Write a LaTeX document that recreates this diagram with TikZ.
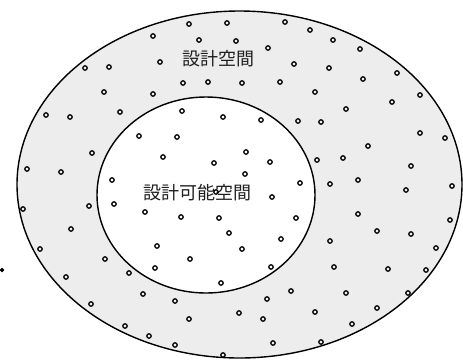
\documentclass[tikz,border=0pt]{standalone}
\usepackage{fontspec}
\newfontfamily\cjk{Noto Sans CJK JP}
\begin{document}
\begin{tikzpicture}[x=1pt,y=-1pt,
  region/.style={draw=black,line width=1.4pt},
  pt/.style={draw=black,line width=1.3pt,inner sep=0pt,minimum size=4.4pt,circle},
  ptf/.style={pt,fill=black},
  lbl/.style={font=\cjk\fontsize{18}{20}\selectfont,text=black!88,inner sep=0pt}]
\useasboundingbox (0,0) rectangle (463,360);
\fill[white] (0,0) rectangle (463,360);
\path[region,fill=black!7] (239.5,184.5) ellipse [x radius=222.5,y radius=173.5];
\path[region,fill=white] (206,195) ellipse [x radius=109,y radius=98];
\node[lbl] (outerlbl) at (218,59) {設計空間};
\node[lbl] (innerlbl) at (197,193) {設計可能空間};
\foreach \p [count=\i] in {
(189,24),(227,23),(285,22),(153,36),(199,40),(236,41),(160,62),(85,68),(109,67),(183,83),(208,82),(104,92),(153,94),(46,115),(70,117),(120,112),(182,111),(223,117),(139,136),(177,137),(92,153),(163,157),(214,163),(27,169),(61,172),(112,180),
(310,30),(268,48),(333,40),(360,49),(294,64),(329,68),(397,73),(242,83),(280,82),(363,79),(315,92),(420,95),(346,109),(392,102),(261,120),(298,121),(321,122),(420,133),(445,138),(368,146),(246,152),(270,162),(317,160),(411,166),(245,174),(358,180),
(23,209),(89,206),(145,212),(181,217),(219,218),(229,233),(71,229),(40,249),(157,246),(105,259),(190,259),(155,268),(129,273),(66,277),(221,283),(143,294),(175,301),(91,304),(125,326),(149,336),(175,345),(223,355),
(300,183),(330,184),(406,190),(452,186),(272,197),(358,214),(296,218),(450,220),(377,231),(411,234),(281,239),(330,241),(242,249),(436,248),(271,267),(334,267),(388,269),(426,270),(291,291),(346,293),(408,293),(267,299),(239,313),(263,319),(315,312),(377,308),(352,324),(273,343),(321,342),
(216,192),(114,204),(189,319),(343,158)}
  \node[pt] (d\i) at \p {};
\node[ptf,minimum size=3pt] (outside) at (2,270) {};
\end{tikzpicture}
\end{document}
